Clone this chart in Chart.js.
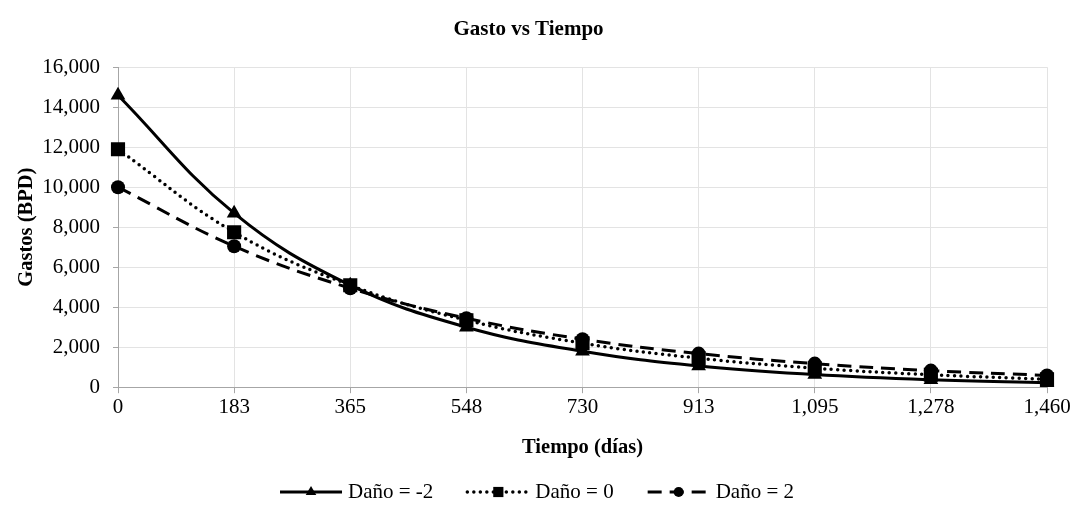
<!DOCTYPE html>
<html lang="es">
<head>
    <meta charset="UTF-8">
    <title>Gasto vs Tiempo</title>
    <style>
        body { margin: 0; background: #fff; }
        #wrap { width: 1074px; height: 506px; }
    </style>
</head>
<body>
    <div id="wrap"><canvas id="gastoChart" width="1074" height="506"></canvas></div>
    <script src="https://cdn.jsdelivr.net/npm/chart.js"></script>
    <script>
        // datos
        const tiempos = ['0', '183', '365', '548', '730', '913', '1,095', '1,278', '1,460'];
        const dano_m2 = [14600, 8700, 5100, 3000, 1800, 1060, 630, 370, 220];
        const dano_0  = [11900, 7750, 5100, 3350, 2200, 1450, 950, 620, 400];
        const dano_2  = [10000, 7050, 4950, 3450, 2400, 1680, 1180, 830, 590];
        const yTicks = [0, 2000, 4000, 6000, 8000, 10000, 12000, 14000, 16000];

        const serif = "'Liberation Serif', 'Times New Roman', serif";

        // leyenda dibujada a mano: linea + marcador + texto
        const legendLines = {
            id: 'legendLines',
            afterDraw(chart) {
                const ctx = chart.ctx;
                const y = 492, lineLen = 62, gap = 6, spacing = 34;
                ctx.save();
                ctx.font = '21px ' + serif;
                const items = chart.data.datasets.map(ds => ({ ds, w: ctx.measureText(ds.label).width }));
                let total = items.reduce((s, it) => s + lineLen + gap + it.w, 0) + spacing * (items.length - 1);
                let x = chart.width / 2 - total / 2;
                items.forEach(it => {
                    const ds = it.ds;
                    ctx.strokeStyle = ds.borderColor;
                    ctx.lineWidth = ds.borderWidth;
                    ctx.lineCap = ds.borderCapStyle || 'butt';
                    ctx.setLineDash(ds.borderDash || []);
                    ctx.beginPath();
                    ctx.moveTo(x, y);
                    ctx.lineTo(x + lineLen, y);
                    ctx.stroke();
                    ctx.setLineDash([]);
                    ctx.fillStyle = ds.pointBackgroundColor;
                    Chart.helpers.drawPoint(ctx, {
                        pointStyle: ds.pointStyle,
                        rotation: 0,
                        borderWidth: 0,
                        radius: ds.pointRadius * 0.72
                    }, x + lineLen / 2, y);
                    ctx.fillStyle = '#000';
                    ctx.textBaseline = 'middle';
                    ctx.textAlign = 'left';
                    ctx.fillText(ds.label, x + lineLen + gap, y);
                    x += lineLen + gap + it.w + spacing;
                });
                ctx.restore();
            }
        };

        document.addEventListener('DOMContentLoaded', function() {
            const ctx = document.getElementById('gastoChart').getContext('2d');
            new Chart(ctx, {
                type: 'line',
                data: {
                    labels: tiempos,
                    datasets: [{
                        label: 'Daño = -2',
                        data: dano_m2,
                        borderColor: '#000',
                        borderWidth: 3,
                        pointStyle: 'triangle',
                        pointRadius: 8.5,
                        pointBackgroundColor: '#000',
                        pointBorderWidth: 0,
                        tension: 0.4
                    }, {
                        label: 'Daño = 0',
                        data: dano_0,
                        borderColor: '#000',
                        borderWidth: 3.5,
                        borderDash: [0, 6.5],
                        borderCapStyle: 'round',
                        pointStyle: 'rect',
                        pointRadius: 10,
                        pointBackgroundColor: '#000',
                        pointBorderWidth: 0,
                        tension: 0.4
                    }, {
                        label: 'Daño = 2',
                        data: dano_2,
                        borderColor: '#000',
                        borderWidth: 3,
                        borderDash: [14, 8],
                        pointStyle: 'circle',
                        pointRadius: 7,
                        pointBackgroundColor: '#000',
                        pointBorderWidth: 0,
                        tension: 0.4
                    }]
                },
                options: {
                    responsive: false,
                    animation: false,
                    layout: { padding: { left: 10, right: 27, top: 0, bottom: 42 } },
                    plugins: {
                        legend: { display: false },
                        tooltip: { enabled: false },
                        title: {
                            display: true,
                            text: 'Gasto vs Tiempo',
                            color: '#000',
                            font: { family: serif, size: 21, weight: 'bold' },
                            padding: { top: 17, bottom: 25 }
                        }
                    },
                    scales: {
                        x: {
                            type: 'category',
                            offset: false,
                            border: { color: '#a6a6a6', width: 1 },
                            grid: { color: '#e3e3e3', tickColor: '#a6a6a6', tickLength: 6 },
                            ticks: { color: '#000', font: { family: serif, size: 21 }, maxRotation: 0, autoSkip: false, padding: 2 },
                            title: { display: true, text: 'Tiempo (días)', color: '#000', font: { family: serif, size: 20.5, weight: 'bold' }, padding: { top: 13 } }
                        },
                        y: {
                            min: 0,
                            max: 16000,
                            afterBuildTicks: axis => { axis.ticks = yTicks.map(v => ({ value: v })); },
                            afterFit: axis => { axis.width = 108; },
                            border: { color: '#a6a6a6', width: 1 },
                            grid: { color: '#e3e3e3', tickColor: '#a6a6a6', tickLength: 5 },
                            ticks: {
                                color: '#000',
                                font: { family: serif, size: 21 },
                                padding: 13,
                                callback: v => v.toLocaleString('en-US')
                            },
                            title: { display: true, text: 'Gastos (BPD)', color: '#000', font: { family: serif, size: 20.5, weight: 'bold' }, padding: { bottom: 0 } }
                        }
                    }
                },
                plugins: [legendLines]
            });
        });
    </script>
</body>
</html>
